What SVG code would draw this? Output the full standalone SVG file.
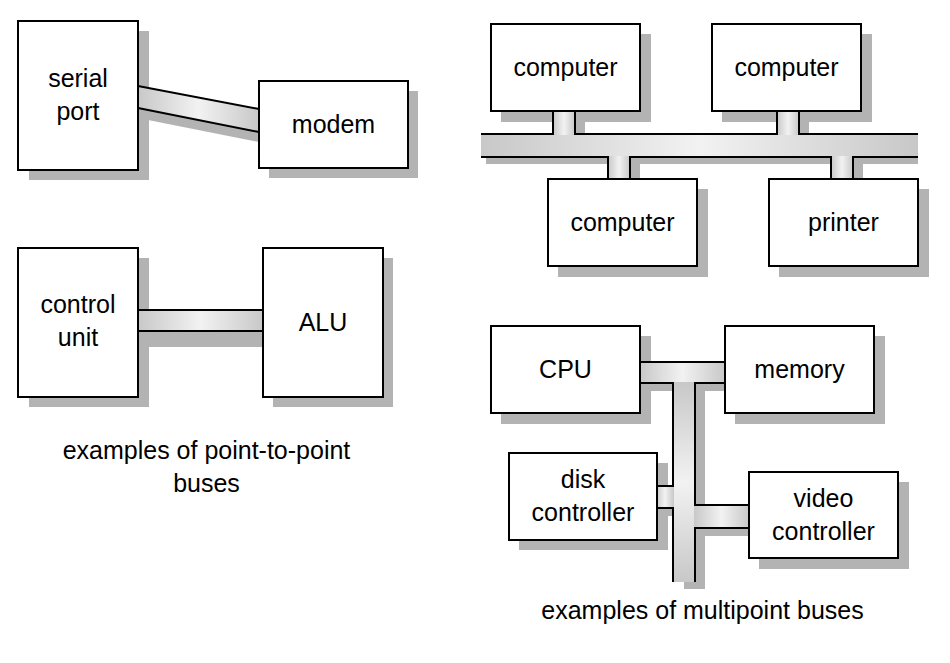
<svg xmlns="http://www.w3.org/2000/svg" width="950" height="663" viewBox="0 0 950 663">
<defs>
<linearGradient id="gh" x1="0" y1="0" x2="1" y2="0">
<stop offset="0" stop-color="#c8c8c8"/><stop offset="0.5" stop-color="#f2f2f2"/><stop offset="1" stop-color="#c8c8c8"/>
</linearGradient>
<linearGradient id="gv" x1="0" y1="0" x2="0" y2="1">
<stop offset="0" stop-color="#c8c8c8"/><stop offset="0.5" stop-color="#f2f2f2"/><stop offset="1" stop-color="#c8c8c8"/>
</linearGradient>
<style>
.sh{fill:#b3b3b3;stroke:none}
.box{fill:#fff;stroke:#000;stroke-width:2}
.ln{fill:none;stroke:#000;stroke-width:2}
.t{font-family:"Liberation Sans",Arial,sans-serif;font-size:25px;text-anchor:middle;fill:#000}
</style>
</defs>
<rect width="950" height="663" fill="#fff"/>
<g id="shadows">
<rect class="sh" x="29" y="31" width="120" height="149"/>
<rect class="sh" x="269" y="91" width="149" height="87"/>
<polygon class="sh" points="148,98 269,121 269,144 148,120"/>
<rect class="sh" x="29" y="258" width="120" height="149"/>
<rect class="sh" x="273" y="258" width="120" height="149"/>
<rect class="sh" x="148" y="326" width="125" height="21"/>
<rect class="sh" x="501" y="34" width="150" height="88"/>
<rect class="sh" x="722" y="34" width="150" height="88"/>
<rect class="sh" x="558" y="189" width="150" height="88"/>
<rect class="sh" x="779" y="189" width="150" height="88"/>
<path class="sh" d="M486,142 H563 V119 H585 V142 H787 V119 H809 V142 H918 V164 H863 V187 H841 V164 H640 V187 H618 V164 H486 Z"/>
<rect class="sh" x="501" y="336" width="150" height="88"/>
<rect class="sh" x="735" y="336" width="150" height="88"/>
<rect class="sh" x="519" y="463" width="149" height="87"/>
<rect class="sh" x="759" y="482" width="150" height="87"/>
<path class="sh" d="M650,370 H735 V391 H705 V513 H759 V536 H705 V589 H684 V516 H667 V494 H684 V391 H650 Z"/>
</g>
<g id="connectors">
<g id="bus-serial-modem">
<polygon points="138,86 259,109 259,132 138,108" fill="url(#gh)"/>
<path class="ln" d="M138,86 L259,109 M138,108 L259,132"/>
</g>
<g id="bus-control-alu">
<rect x="138" y="310" width="125" height="21" fill="url(#gh)"/>
<path class="ln" d="M138,310 H263 M138,331 H263"/>
</g>
<g id="bus-multipoint-1">
<rect x="481" y="134" width="437" height="23" fill="url(#gh)"/>
<rect x="553" y="110" width="22" height="25" fill="url(#gh)"/>
<rect x="777" y="110" width="22" height="25" fill="url(#gh)"/>
<rect x="608" y="156" width="22" height="24" fill="url(#gh)"/>
<rect x="831" y="156" width="22" height="24" fill="url(#gh)"/>
<path class="ln" d="M481,134 H553 V111 M575,111 V134 H777 V111 M799,111 V134 H918 M481,157 H608 V179 M630,179 V157 H831 V179 M853,179 V157 H918"/>
</g>
<g id="bus-multipoint-2">
<rect x="640" y="362" width="85" height="21" fill="url(#gh)"/>
<rect x="673" y="382" width="22" height="200" fill="url(#gv)"/>
<rect x="656" y="486" width="18" height="22" fill="url(#gh)"/>
<rect x="694" y="505" width="55" height="23" fill="url(#gh)"/>
<path class="ln" d="M640,362 H725 M640,383 H673 V486 H657 M657,508 H673 V582 M725,383 H695 V505 H749 M749,528 H695 V582"/>
</g>
</g>
<g id="nodes">
<g id="serial-port"><rect class="box" x="18" y="21" width="120" height="149"/><text class="t" x="78" y="87">serial</text><text class="t" x="78" y="120">port</text></g>
<g id="modem"><rect class="box" x="259" y="81" width="149" height="87"/><text class="t" x="333.5" y="132.5">modem</text></g>
<g id="control-unit"><rect class="box" x="18" y="248" width="120" height="149"/><text class="t" x="78" y="313">control</text><text class="t" x="78" y="346">unit</text></g>
<g id="alu"><rect class="box" x="263" y="248" width="120" height="149"/><text class="t" x="323" y="331">ALU</text></g>
<g id="computer-1"><rect class="box" x="491" y="24" width="149" height="87"/><text class="t" x="565.5" y="75.5">computer</text></g>
<g id="computer-2"><rect class="box" x="712" y="24" width="149" height="87"/><text class="t" x="786.5" y="75.5">computer</text></g>
<g id="computer-3"><rect class="box" x="548" y="179" width="149" height="87"/><text class="t" x="622.5" y="230.5">computer</text></g>
<g id="printer"><rect class="box" x="769" y="179" width="149" height="87"/><text class="t" x="843.5" y="230.5">printer</text></g>
<g id="cpu"><rect class="box" x="491" y="326" width="149" height="87"/><text class="t" x="565.5" y="377.5">CPU</text></g>
<g id="memory"><rect class="box" x="725" y="326" width="149" height="87"/><text class="t" x="799.5" y="377.5">memory</text></g>
<g id="disk-controller"><rect class="box" x="509" y="453" width="148" height="87"/><text class="t" x="583" y="488">disk</text><text class="t" x="583" y="521">controller</text></g>
<g id="video-controller"><rect class="box" x="749" y="472" width="149" height="86"/><text class="t" x="823.5" y="506.5">video</text><text class="t" x="823.5" y="539.5">controller</text></g>
</g>
<g id="captions">
<text class="t" x="206.5" y="459">examples of point-to-point</text>
<text class="t" x="206.5" y="492">buses</text>
<text class="t" x="702.5" y="619">examples of multipoint buses</text>
</g>
</svg>
